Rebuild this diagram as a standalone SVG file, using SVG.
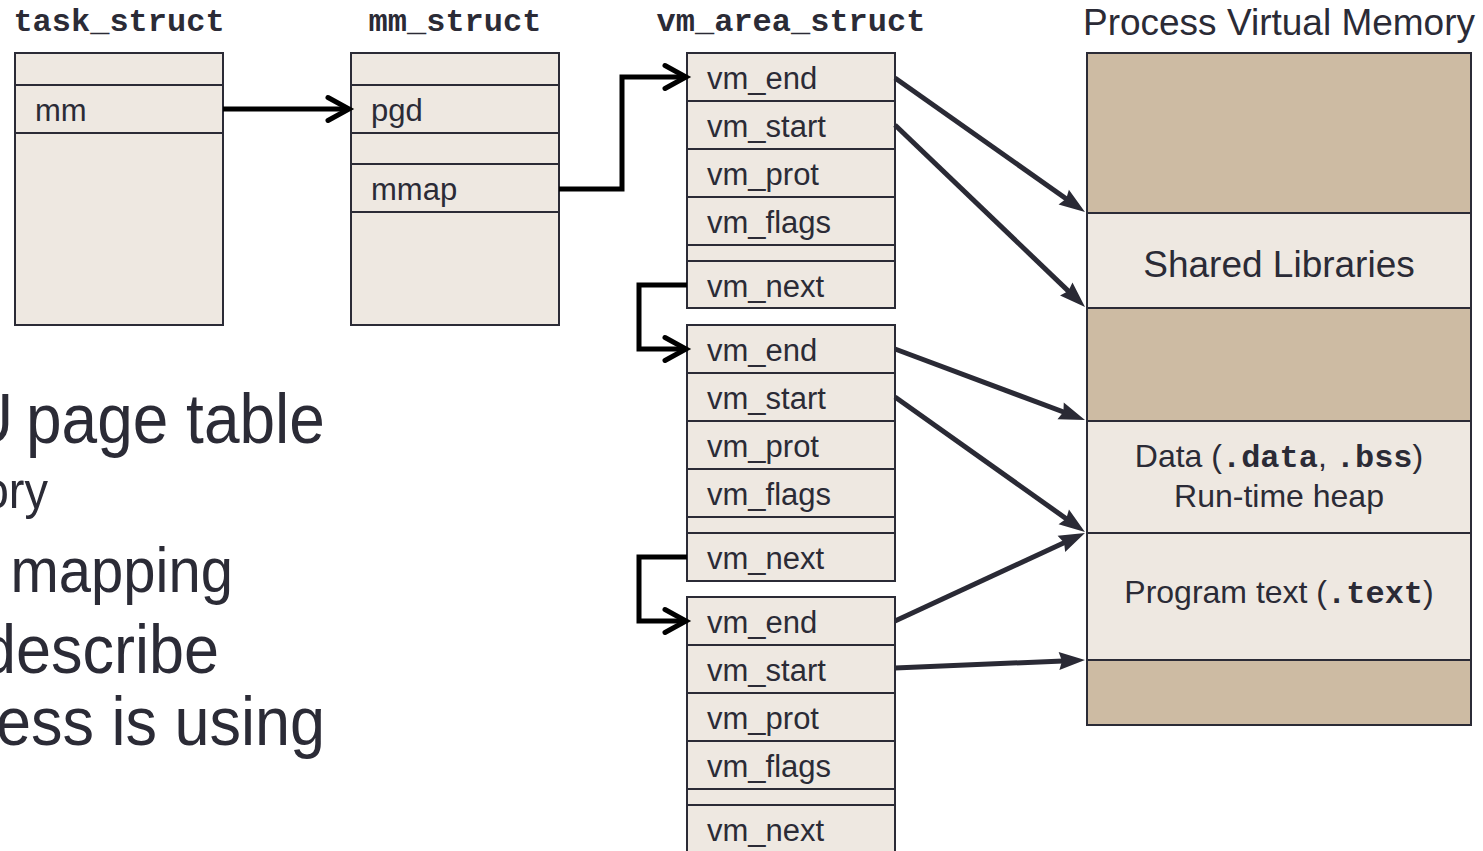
<svg xmlns="http://www.w3.org/2000/svg" width="1483" height="851" viewBox="0 0 1483 851">
<style>
.bx{fill:#EEE8E1;stroke:#2B2B36;stroke-width:2}
.dk{fill:#CDBBA3;stroke:#2B2B36;stroke-width:2}
.ln{stroke:#2B2B36;stroke-width:2}
.lbl{font-family:"Liberation Sans",Arial,sans-serif;font-size:31px;fill:#2B2B36}
.ttl{font-family:"Liberation Mono","Courier New",monospace;font-weight:bold;font-size:32px;fill:#2B2B36;text-anchor:middle}
.seg{font-family:"Liberation Sans",Arial,sans-serif;font-size:32px;fill:#2B2B36;text-anchor:middle}
.seg.lg{font-size:37px}
.mono{font-family:"Liberation Mono","Courier New",monospace;font-weight:bold}
.big{font-family:"Liberation Sans",Arial,sans-serif;fill:#2B2B36}
.conn{fill:none;stroke:#000;stroke-width:5}
.ptr{fill:none;stroke:#2A2A35;stroke-width:5}
</style>
<defs>
<marker id="chev" markerUnits="userSpaceOnUse" markerWidth="30" markerHeight="30" refX="21" refY="13" orient="auto" overflow="visible">
<path d="M2,1.5 L23,13 L2,24.5" fill="none" stroke="#000" stroke-width="5" stroke-linecap="round"/>
</marker>
<marker id="tri" markerUnits="userSpaceOnUse" markerWidth="30" markerHeight="20" refX="16" refY="9" orient="auto" overflow="visible">
<path d="M0,0 L26,9 L0,18 L3,9 z" fill="#2A2A35"/>
</marker>
</defs>

<g id="side-text">
<text class="big" font-size="64" x="-33" y="0" transform="translate(0,443) scale(1,1.1)">U<tspan dx="-5"> page table</tspan></text>
<text class="big" font-size="47" x="48" y="0" text-anchor="end" transform="translate(0,508) scale(1,1.1)">ory</text>
<text class="big" font-size="58" x="233" y="0" text-anchor="end" transform="translate(0,592) scale(1,1.1)">mapping</text>
<text class="big" font-size="63" x="219" y="0" text-anchor="end" transform="translate(0,673) scale(1,1.1)">describe</text>
<text class="big" font-size="63" x="325" y="0" text-anchor="end" transform="translate(0,745) scale(1,1.1)">ess is using</text>
</g>

<g id="task_struct">
<text class="ttl" x="119" y="31">task_struct</text>
<rect class="bx" x="15" y="53" width="208" height="272"/>
<line class="ln" x1="15" y1="85" x2="223" y2="85"/>
<line class="ln" x1="15" y1="133" x2="223" y2="133"/>
<text class="lbl" x="35" y="121">mm</text>
</g>

<g id="mm_struct">
<text class="ttl" x="455" y="31">mm_struct</text>
<rect class="bx" x="351" y="53" width="208" height="272"/>
<line class="ln" x1="351" y1="85" x2="559" y2="85"/>
<line class="ln" x1="351" y1="133" x2="559" y2="133"/>
<line class="ln" x1="351" y1="164" x2="559" y2="164"/>
<line class="ln" x1="351" y1="212" x2="559" y2="212"/>
<text class="lbl" x="371" y="121">pgd</text>
<text class="lbl" x="371" y="200">mmap</text>
</g>

<text class="ttl" x="791" y="31">vm_area_struct</text>

<g id="vma1">
<rect class="bx" x="687" y="53" width="208" height="255"/>
<line class="ln" x1="687" y1="101" x2="895" y2="101"/>
<line class="ln" x1="687" y1="149" x2="895" y2="149"/>
<line class="ln" x1="687" y1="197" x2="895" y2="197"/>
<line class="ln" x1="687" y1="245" x2="895" y2="245"/>
<line class="ln" x1="687" y1="261" x2="895" y2="261"/>
<text class="lbl" x="707" y="89">vm_end</text>
<text class="lbl" x="707" y="137">vm_start</text>
<text class="lbl" x="707" y="185">vm_prot</text>
<text class="lbl" x="707" y="233">vm_flags</text>
<text class="lbl" x="707" y="297">vm_next</text>
</g>

<g id="vma2">
<rect class="bx" x="687" y="325" width="208" height="256"/>
<line class="ln" x1="687" y1="373" x2="895" y2="373"/>
<line class="ln" x1="687" y1="421" x2="895" y2="421"/>
<line class="ln" x1="687" y1="469" x2="895" y2="469"/>
<line class="ln" x1="687" y1="517" x2="895" y2="517"/>
<line class="ln" x1="687" y1="533" x2="895" y2="533"/>
<text class="lbl" x="707" y="361">vm_end</text>
<text class="lbl" x="707" y="409">vm_start</text>
<text class="lbl" x="707" y="457">vm_prot</text>
<text class="lbl" x="707" y="505">vm_flags</text>
<text class="lbl" x="707" y="569">vm_next</text>
</g>

<g id="vma3">
<rect class="bx" x="687" y="597" width="208" height="258"/>
<line class="ln" x1="687" y1="645" x2="895" y2="645"/>
<line class="ln" x1="687" y1="693" x2="895" y2="693"/>
<line class="ln" x1="687" y1="741" x2="895" y2="741"/>
<line class="ln" x1="687" y1="789" x2="895" y2="789"/>
<line class="ln" x1="687" y1="805" x2="895" y2="805"/>
<text class="lbl" x="707" y="633">vm_end</text>
<text class="lbl" x="707" y="681">vm_start</text>
<text class="lbl" x="707" y="729">vm_prot</text>
<text class="lbl" x="707" y="777">vm_flags</text>
<text class="lbl" x="707" y="841">vm_next</text>
</g>

<g id="pvm">
<text class="seg lg" x="1279" y="35">Process Virtual Memory</text>
<rect class="dk" x="1087" y="53" width="384" height="160"/>
<rect class="bx" x="1087" y="213" width="384" height="95"/>
<rect class="dk" x="1087" y="308" width="384" height="113"/>
<rect class="bx" x="1087" y="421" width="384" height="112"/>
<rect class="bx" x="1087" y="533" width="384" height="127"/>
<rect class="dk" x="1087" y="660" width="384" height="65"/>
<text class="seg lg" x="1279" y="277">Shared Libraries</text>
<text class="seg" x="1279" y="467">Data (<tspan class="mono">.data</tspan>, <tspan class="mono">.bss</tspan>)</text>
<text class="seg" x="1279" y="507">Run-time heap</text>
<text class="seg" x="1279" y="603">Program text (<tspan class="mono">.text</tspan>)</text>
</g>

<g id="connectors">
<path class="conn" d="M223,109 H347" marker-end="url(#chev)"/>
<path class="conn" d="M559,189 H622 V77 H684" marker-end="url(#chev)"/>
<path class="conn" d="M687,285 H639 V349 H684" marker-end="url(#chev)"/>
<path class="conn" d="M687,557 H639 V621 H684" marker-end="url(#chev)"/>
<path class="ptr" d="M895,78 L1076.8,206.3" marker-end="url(#tri)"/>
<path class="ptr" d="M895,125 L1077.8,300.1" marker-end="url(#tri)"/>
<path class="ptr" d="M895,349 L1075.6,416.5" marker-end="url(#tri)"/>
<path class="ptr" d="M895,397 L1076.8,526.2" marker-end="url(#tri)"/>
<path class="ptr" d="M895,621 L1075.9,537.2" marker-end="url(#tri)"/>
<path class="ptr" d="M895,668 L1075,660.4" marker-end="url(#tri)"/>
</g>
</svg>
